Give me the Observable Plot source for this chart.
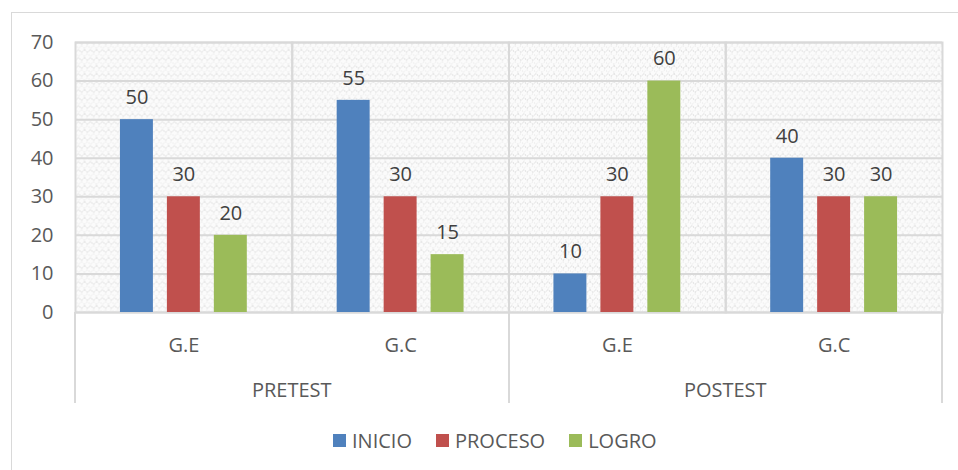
<!DOCTYPE html>
<html>
<head>
<meta charset="utf-8">
<script src="https://cdn.jsdelivr.net/npm/d3@7"></script>
<script src="https://cdn.jsdelivr.net/npm/@observablehq/plot@0.6"></script>
<style>
  html, body { margin: 0; padding: 0; background: #fff; overflow: hidden; }
  #wrap { position: relative; width: 958px; height: 470px; font-family: "Open Sans", sans-serif; }
  #border { position: absolute; left: 11px; top: 12px; width: 1000px; height: 520px; border: 1.5px solid #d9d9d9; box-sizing: border-box; }
  #chart { position: absolute; left: 0; top: 0; }
  #legend { position: absolute; left: 333px; top: 427px; display: flex; align-items: center; color: #595959; font-size: 20px; }
  #legend .item { display: flex; align-items: center; margin-right: 24px; }
  #legend .sw { width: 13px; height: 13px; margin-right: 6px; }
</style>
</head>
<body>
<div id="wrap">
  <div id="border"></div>
  <div id="chart"></div>
  <div id="legend"></div>
</div>
<script>
// ---- data ----
const phases = ["PRETEST", "PRETEST", "POSTEST", "POSTEST"];
const groups = ["G.E", "G.C", "G.E", "G.C"];
const series = ["INICIO", "PROCESO", "LOGRO"];
const inicio = [50, 55, 10, 40];
const proceso = [30, 30, 30, 30];
const logro = [20, 15, 60, 30];
const colors = ["#4f81bd", "#c0504d", "#9bbb59"];
const yTicks = [0, 10, 20, 30, 40, 50, 60, 70];

const valuesBySeries = [inicio, proceso, logro];
const keys = phases.map((p, i) => p + "|" + groups[i]);
const rows = [];
keys.forEach((k, i) => {
  series.forEach((s, j) => {
    rows.push({key: k, phase: phases[i], group: groups[i], serie: s, value: valuesBySeries[j][i]});
  });
});

const W = 958, H = 410;
const plot = Plot.plot({
  width: W,
  height: H,
  marginLeft: 75,
  marginRight: 16,
  marginTop: 42,
  marginBottom: 98,
  style: {fontFamily: "Open Sans, sans-serif", fontSize: "20px", color: "#595959", background: "transparent"},
  facet: {data: rows, x: "key"},
  fx: {domain: keys, paddingInner: 0, paddingOuter: 0, round: false, axis: "bottom", tickSize: 0, tickPadding: 25,
       tickFormat: k => k.split("|")[1], label: null},
  x: {domain: series, paddingInner: 0.298, paddingOuter: 0.957, round: false, axis: null},
  y: {domain: [0, 70], ticks: yTicks, tickSize: 0, tickPadding: 22, label: null},
  color: {domain: series, range: colors},
  marks: [
    Plot.frame({fill: "url(#hatch)", stroke: "none"}),
    Plot.ruleY(yTicks, {stroke: "#d9d9d9", strokeWidth: 2}),
    Plot.frame({stroke: "#d9d9d9", strokeWidth: 2}),
    Plot.barY(rows, {x: "serie", y: "value", fill: "serie"}),
    Plot.text(rows, {x: "serie", y: "value", text: d => String(d.value), dy: -22, fill: "#404040", fontSize: 20})
  ]
});
document.getElementById("chart").appendChild(plot);

// pattern definition for the plot background (light zig-zag texture)
const svg = d3.select(plot);
const defs = svg.insert("defs", ":first-child");
const pat = defs.append("pattern").attr("id", "hatch").attr("patternUnits", "userSpaceOnUse")
  .attr("width", 12).attr("height", 8);
pat.append("rect").attr("width", 12).attr("height", 8).attr("fill", "#fbfbfb");
pat.append("path").attr("d", "M0 1 L3 4 L6 1 L9 4 L12 1").attr("fill", "none")
  .attr("stroke", "#d3d3d3").attr("stroke-width", 1).attr("stroke-dasharray", "1.5 1");
pat.append("path").attr("d", "M-3 5 L0 8 L3 5 L6 8 L9 5 L12 8 L15 5").attr("fill", "none")
  .attr("stroke", "#dfdfdf").attr("stroke-width", 1).attr("stroke-dasharray", "1 1.5");

// two-level category axis: phase separators and phase labels
const fxs = plot.scale("fx");
let fxApply;
if (fxs && typeof fxs.apply === "function") fxApply = fxs.apply;
else {
  const b = d3.scaleBand().domain(fxs.domain).range(fxs.range).paddingInner(fxs.paddingInner || 0).paddingOuter(fxs.paddingOuter || 0);
  fxApply = b;
}
const bw = fxs.bandwidth != null ? fxs.bandwidth : (fxs.range[1] - fxs.range[0]) / fxs.domain.length;
const ysc = plot.scale("y");
const y0 = Math.max(...ysc.range);
const uniquePhases = Array.from(new Set(phases));
const g = svg.append("g");
const edges = [];
uniquePhases.forEach(p => {
  const ks = keys.filter((k, i) => phases[i] === p);
  const x0 = fxApply(ks[0]);
  const x1 = fxApply(ks[ks.length - 1]) + bw;
  edges.push(x0, x1);
  g.append("text").attr("x", (x0 + x1) / 2).attr("y", y0 + 85)
    .attr("text-anchor", "middle").attr("fill", "#595959").attr("font-size", 20)
    .text(p);
});
Array.from(new Set(edges.map(e => Math.round(e)))).forEach(x => {
  g.append("line").attr("x1", x).attr("x2", x).attr("y1", y0).attr("y2", H - 7)
    .attr("stroke", "#d9d9d9").attr("stroke-width", 2);
});

// legend
const leg = d3.select("#legend");
series.forEach((s, i) => {
  const it = leg.append("div").attr("class", "item");
  it.append("div").attr("class", "sw").style("background", colors[i]);
  it.append("span").text(s);
});
</script>
</body>
</html>
